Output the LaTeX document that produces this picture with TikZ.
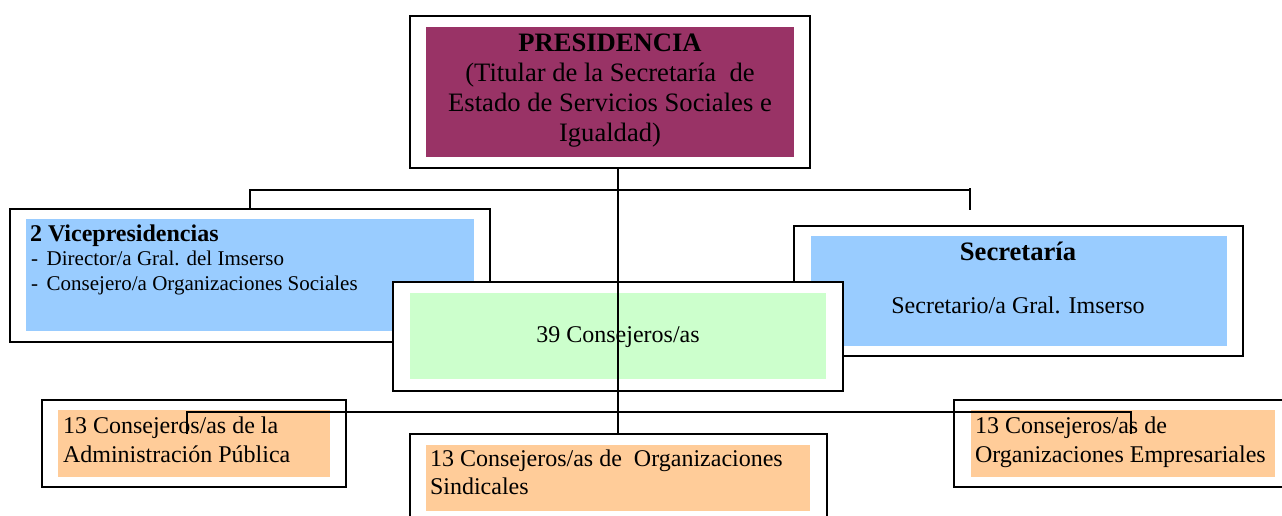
\documentclass[tikz,border=0pt]{standalone}
\usepackage{fontspec}
\setmainfont{Liberation Serif}
\definecolor{plum}{HTML}{993366}
\definecolor{skyb}{HTML}{99CCFF}
\definecolor{mint}{HTML}{CCFFCC}
\definecolor{peach}{HTML}{FFCC99}
\begin{document}
\begin{tikzpicture}[x=1pt,y=-1pt,
  frame/.style={draw=black, line width=1.7pt, fill=white, anchor=north west, inner sep=0pt, outer sep=0pt},
  panel/.style={draw=none, anchor=north west, inner sep=0pt, outer sep=0pt},
  conn/.style={draw=black, line width=1.7pt},
  txt/.style={inner sep=0pt, outer sep=0pt, text=black},
  big/.style={font=\fontsize{26.6}{30}\selectfont},
  mid/.style={font=\fontsize{24}{29}\selectfont},
  sml/.style={font=\fontsize{21}{25}\selectfont}]
\useasboundingbox (0,0) rectangle (1282,516);
% Presidencia
\node[frame, minimum width=400pt, minimum height=152pt] (presO) at (410,16) {};
\node[panel, fill=plum, minimum width=368pt, minimum height=130pt] (presI) at (426,27) {};
\node[txt, big, anchor=base] (p1) at (610,51.7) {\textbf{PRESIDENCIA}};
\node[txt, big, anchor=base] (p2) at (610,81.7) {(Titular de la Secretaría \ de};
\node[txt, big, anchor=base] (p3) at (610,111.7) {Estado de Servicios Sociales e};
\node[txt, big, anchor=base] (p4) at (610,141.7) {Igualdad)};
% Vicepresidencias
\node[frame, minimum width=480pt, minimum height=133pt] (viceO) at (10,209) {};
\node[panel, fill=skyb, minimum width=448pt, minimum height=112pt] (viceI) at (26,219) {};
\node[txt, mid, anchor=base west] (v1) at (30,241.7) {\textbf{2 Vicepresidencias}};
\node[txt, sml, anchor=base west] (v2) at (31,265) {\makebox[15.7pt][l]{-}Director/a Gral. del Imserso};
\node[txt, sml, anchor=base west] (v3) at (31,290) {\makebox[15.7pt][l]{-}Consejero/a Organizaciones Sociales};
% Secretaria
\node[frame, minimum width=449pt, minimum height=130pt] (secO) at (794,226) {};
\node[panel, fill=skyb, minimum width=416pt, minimum height=110pt] (secI) at (811,236) {};
\node[txt, big, anchor=base] (s1) at (1018,260) {\textbf{Secretaría}};
\node[txt, mid, anchor=base] (s2) at (1018,313.3) {Secretario/a Gral. Imserso};
% 39 Consejeros
\node[frame, minimum width=450pt, minimum height=109pt] (consO) at (393,282) {};
\node[panel, fill=mint, minimum width=416pt, minimum height=86pt] (consI) at (410,293) {};
\node[txt, mid, anchor=base] (c1) at (618,342.7) {39 Consejeros/as};
% Administracion Publica
\node[frame, minimum width=304pt, minimum height=87pt] (admO) at (42,400) {};
\node[panel, fill=peach, minimum width=272pt, minimum height=67pt] (admI) at (58,410) {};
\node[txt, mid, anchor=base west] (a1) at (63,433) {13 Consejeros/as de la};
\node[txt, mid, anchor=base west] (a2) at (63,462) {Administración Pública};
% Sindicales
\node[frame, minimum width=417pt, minimum height=100pt] (sinO) at (410,434) {};
\node[panel, fill=peach, minimum width=384pt, minimum height=66pt] (sinI) at (426,445) {};
\node[txt, mid, anchor=base west] (n1) at (430,466.7) {13 Consejeros/as de \ Organizaciones};
\node[txt, mid, anchor=base west] (n2) at (430,494) {Sindicales};
% Empresariales
\node[frame, minimum width=340pt, minimum height=87pt] (empO) at (954,400) {};
\node[panel, fill=peach, minimum width=304pt, minimum height=67pt] (empI) at (971,410) {};
\node[txt, mid, anchor=base west] (e1) at (975,433) {13 Consejeros/as de};
\node[txt, mid, anchor=base west] (e2) at (975,462) {Organizaciones Empresariales};
% connectors
\coordinate (hub) at (618,190);
\coordinate (bus) at (618,412);
\coordinate (topL) at (250,190);
\coordinate (topR) at (970,190);
\coordinate (topRa) at (970,188);
\coordinate (topRb) at (970,210);
\coordinate (botL) at (186.7,412);
\coordinate (botR) at (1131,412);
\coordinate (botLe) at (186.7,434);
\coordinate (botRe) at (1131,434);
\draw[conn] (viceO.north -| topL) -- (topL) -- (topR);
\draw[conn] (topRa) -- (topRb);
\draw[conn] (presO.south -| hub) -- (bus);
\draw[conn] (botLe) -- (botL) -- (botR) -- (botRe);
\draw[conn] (bus) -- (sinO.north -| bus);
\end{tikzpicture}
\end{document}
